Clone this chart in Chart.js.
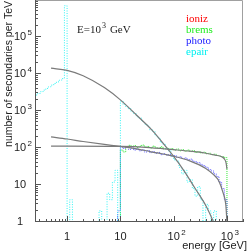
<!DOCTYPE html>
<html>
<head>
<meta charset="utf-8">
<script src="https://cdn.jsdelivr.net/npm/chart.js@4/dist/chart.umd.min.js"></script>
<style>
  html, body { margin: 0; padding: 0; background: #fff; }
</style>
</head>
<body>
<canvas id="grafico" width="249" height="252"></canvas>
<script>
// log bins, 0.05 decade wide, 10^-0.6 .. 10^3
const binStart = -0.6;
const binWidth = 0.05;

// histograms (counts per bin), each one starts at the given bin index
const epairStart = 0;
const epair = [
  2700, 2990, 3320, 3670, 4070, 4510, 5000, 5540, 6130, 6790,
  7520, 700000, 0, 4, 0, 0, 0, 0, 0, 0,
  0, 0, 0, 0, 2, 0, 0, 6, 4, 12,
  25, 0,
  1850, 1500, 1300, 1150, 960, 850, 700, 640, 520, 440,
  390, 310, 280, 215, 185, 140, 125, 95, 84, 60,
  48, 44, 30, 20, 25, 12, 14, 8, 5, 9,
  4, 0, 3, 2, 0, 2, 0, 0, 0, 0
];
const bremsStart = 32;
const brems = [
  88, 78, 105, 118, 110, 116, 104, 112, 120, 106,
  110, 100, 112, 102, 98, 108, 95, 100, 92, 96,
  88, 94, 84, 90, 82, 88, 80, 84, 76, 80,
  74, 77, 70, 72, 66, 68, 63, 60, 58, 55
];
const photoStart = 31;
const photo = [
  2,
  105, 98, 110, 92, 100, 88, 95, 84, 90, 78,
  85, 75, 80, 72, 76, 66, 70, 64, 66, 60,
  62, 56, 58, 52, 54, 48, 50, 44, 42, 40,
  36, 33, 30, 26, 24, 20, 17, 12, 8, 4
];

// theory curves
const epairFitX = [0.5, 1, 2, 5, 10, 20, 40, 70, 100, 160, 250, 400, 560, 700];
const epairFitY = [14400, 12500, 9000, 4300, 2000, 780, 295, 112, 59, 23, 8.3, 2.8, 1.0, 0.45];
const photoFitX = [0.5, 1, 2, 5, 10, 20, 36, 100, 200, 400, 560, 700, 850, 950, 1000];
const photoFitY = [200, 175, 150, 125, 110, 95, 80, 60, 45, 28, 19, 13, 6, 3, 1];
const bremsFitX = [0.5, 1, 10, 30, 100, 200, 400, 600, 800, 900, 960, 1000];
const bremsFitY = [112, 112, 110, 104, 90, 82, 72, 64, 58, 50, 40, 27];

const xTicks = [1, 10, 100, 1000];
const xTickLabels = [["1", ""], ["10", ""], ["10", "2"], ["10", "3"]];
const yTicks = [1, 10, 100, 1000, 10000, 100000];
const yTickLabels = [["1", ""], ["10", ""], ["10", "2"], ["10", "3"], ["10", "4"], ["10", "5"]];

const legenda = ["ioniz", "brems", "photo", "epair"];
const coresLegenda = ["#ff0000", "#22ee22", "#2020ff", "#00f0f0"];

function borda(i) {
  return Math.pow(10, binStart + binWidth * i);
}

// stepped outline of a histogram; empty bins go below the frame
function histograma(valores, inicio) {
  const piso = 0.1;
  const pts = [{ x: borda(inicio), y: piso }];
  valores.forEach((v, i) => {
    pts.push({ x: borda(inicio + i), y: v > 0 ? v : piso });
  });
  const fim = borda(inicio + valores.length);
  const ultimo = valores[valores.length - 1];
  pts.push({ x: fim, y: ultimo > 0 ? ultimo : piso });
  pts.push({ x: fim, y: piso });
  return pts;
}

function curva(xs, ys) {
  return xs.map((x, i) => ({ x: x, y: ys[i] }));
}

const desenhaEixos = {
  id: "desenhaEixos",
  afterDatasetsDraw(chart) {
    const ctx = chart.ctx;
    const a = chart.chartArea;
    const sx = chart.scales.x;
    const sy = chart.scales.y;
    ctx.save();

    // frame
    ctx.lineWidth = 1;
    ctx.strokeStyle = "#a0a0a0";
    ctx.beginPath();
    ctx.moveTo(a.left, a.top + 0.5);
    ctx.lineTo(a.right - 0.5, a.top + 0.5);
    ctx.lineTo(a.right - 0.5, a.bottom);
    ctx.stroke();
    ctx.strokeStyle = "#555";
    ctx.beginPath();
    ctx.moveTo(a.left + 0.5, a.top);
    ctx.lineTo(a.left + 0.5, a.bottom - 0.5);
    ctx.lineTo(a.right, a.bottom - 0.5);
    ctx.stroke();

    // ticks
    ctx.beginPath();
    for (let d = 0.1; d <= 1000; d *= 10) {
      for (let m = 1; m <= 9; m++) {
        const v = d * m;
        if (v < sx.min || v > sx.max) continue;
        const px = Math.round(sx.getPixelForValue(v)) + 0.5;
        const len = m === 1 ? 6 : 3;
        ctx.moveTo(px, a.bottom);
        ctx.lineTo(px, a.bottom - len);
      }
    }
    for (let d = 1; d <= 100000; d *= 10) {
      for (let m = 1; m <= 9; m++) {
        const v = d * m;
        if (v < sy.min || v > sy.max) continue;
        const py = Math.round(sy.getPixelForValue(v)) - 0.5;
        const len = m === 1 ? 6 : 3;
        ctx.moveTo(a.left, py);
        ctx.lineTo(a.left + len, py);
      }
    }
    ctx.stroke();

    // tick labels
    ctx.fillStyle = "#222";
    ctx.textBaseline = "middle";
    xTicks.forEach((v, i) => {
      const px = sx.getPixelForValue(v);
      const [base, exp] = xTickLabels[i];
      ctx.font = "11px 'Liberation Sans'";
      ctx.textAlign = "center";
      ctx.fillText(base, px, 237);
      if (exp) {
        const w = ctx.measureText(base).width;
        ctx.font = "8px 'Liberation Sans'";
        ctx.textAlign = "left";
        ctx.fillText(exp, px + w / 2 + 1.5, 232.5);
      }
    });
    yTicks.forEach((v, i) => {
      const py = sy.getPixelForValue(v);
      const [base, exp] = yTickLabels[i];
      ctx.font = "11px 'Liberation Sans'";
      ctx.textAlign = "center";
      ctx.fillText(base, 20, py);
      if (exp) {
        const w = ctx.measureText(base).width;
        ctx.font = "8px 'Liberation Sans'";
        ctx.textAlign = "left";
        ctx.fillText(exp, 20 + w / 2 + 1.5, py - 4.5);
      }
    });

    // axis titles
    ctx.font = "11px 'Liberation Sans'";
    ctx.textAlign = "right";
    ctx.fillText("energy [GeV]", 247, 246);
    ctx.save();
    ctx.translate(9, 1);
    ctx.rotate(-Math.PI / 2);
    ctx.font = "10.5px 'Liberation Sans'";
    ctx.textAlign = "right";
    ctx.fillText("number of secondaries per TeV", 0, 0);
    ctx.restore();

    // energy label
    ctx.font = "11px 'Liberation Serif'";
    ctx.textAlign = "left";
    ctx.fillText("E=10", 77, 30);
    let w = ctx.measureText("E=10").width;
    ctx.font = "8px 'Liberation Serif'";
    ctx.fillText("3", 77 + w + 1, 26);
    ctx.font = "11px 'Liberation Serif'";
    ctx.fillText("GeV", 77 + w + 9, 30);

    // legend
    legenda.forEach((t, i) => {
      ctx.fillStyle = coresLegenda[i];
      ctx.fillText(t, 186, 19 + i * 11);
    });
    ctx.restore();
  }
};

const grafico = new Chart(document.getElementById("grafico"), {
  type: "line",
  data: {
    datasets: [
      {
        label: "bremsFit",
        data: curva(bremsFitX, bremsFitY),
        borderColor: "#7a7a7a",
        borderWidth: 1.2,
        cubicInterpolationMode: "monotone",
      },
      {
        label: "photoFit",
        data: curva(photoFitX, photoFitY),
        borderColor: "#7a7a7a",
        borderWidth: 1.2,
        cubicInterpolationMode: "monotone",
      },
      {
        label: "epairFit",
        data: curva(epairFitX, epairFitY),
        borderColor: "#7a7a7a",
        borderWidth: 1.2,
        cubicInterpolationMode: "monotone",
      },
      {
        label: "epair",
        data: histograma(epair, epairStart),
        borderColor: "#30f4f4",
        borderWidth: 1,
        borderDash: [1, 1.5],
        stepped: "before",
      },
      {
        label: "photo",
        data: histograma(photo, photoStart),
        borderColor: "#5a5aff",
        borderWidth: 1,
        borderDash: [1, 1],
        stepped: "before",
      },
      {
        label: "brems",
        data: histograma(brems, bremsStart),
        borderColor: "#30e830",
        borderWidth: 1,
        borderDash: [1, 1],
        stepped: "before",
      },
    ],
  },
  options: {
    responsive: false,
    animation: false,
    events: [],
    layout: { padding: { left: 35, right: 6, top: 0, bottom: 30 } },
    elements: { point: { radius: 0 } },
    plugins: { legend: { display: false }, tooltip: { enabled: false } },
    scales: {
      x: { type: "logarithmic", min: 0.25, max: 2000, display: false },
      y: { type: "logarithmic", min: 1, max: 1e6, display: false },
    },
  },
  plugins: [desenhaEixos],
});
</script>
</body>
</html>
